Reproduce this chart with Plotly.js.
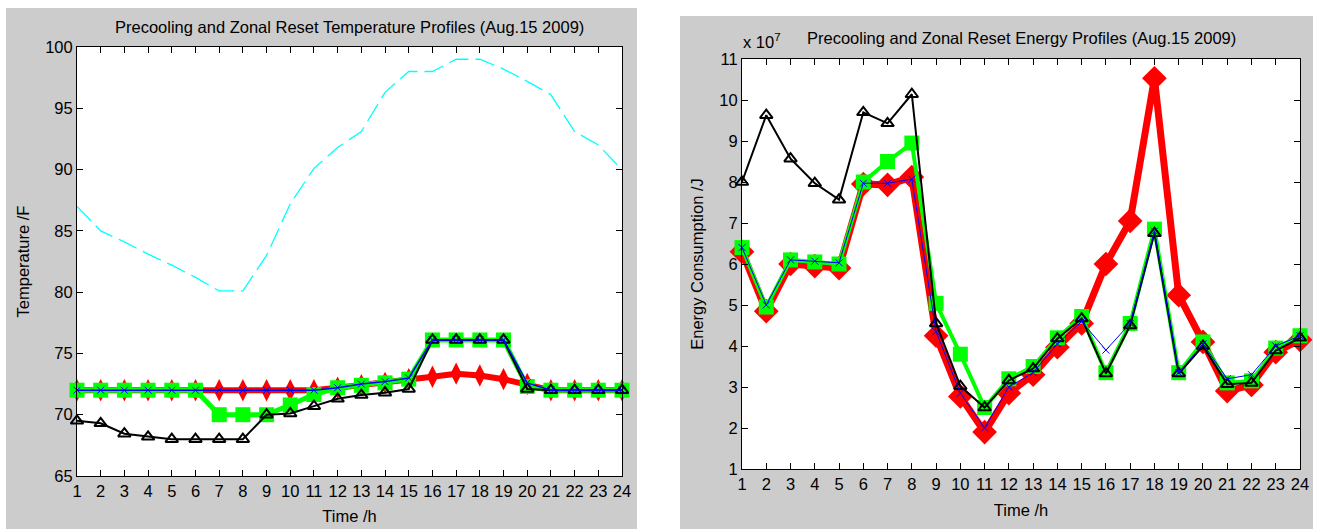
<!DOCTYPE html>
<html><head><meta charset="utf-8">
<script src="https://cdn.plot.ly/plotly-3.0.1.min.js"></script>
<style>html,body{margin:0;padding:0;background:#fff}#chart{width:1320px;height:529px}</style>
</head><body><div id="chart"></div>
<script>
const hours = [1,2,3,4,5,6,7,8,9,10,11,12,13,14,15,16,17,18,19,20,21,22,23,24];
const xTickLabels = ['1','2','3','4','5','6','7','8','9','10','11','12','13','14','15','16','17','18','19','20','21','22','23','24'];

// Temperature profiles (F)
const tempOutdoor = [87,85,84.1,83.1,82.2,81.2,80.1,80.1,83,87.2,90.1,91.8,93.1,96.3,98,98,99,99,98.2,97.2,96.1,93.1,92,90];
const tempRed   = [72,72,72,72,72,72,72,72,72,72,72,72.2,72.4,72.6,72.9,73.1,73.35,73.2,72.9,72.5,72,72,72,72];
const tempGreen = [72,72,72,72,72,72,70,70,70,70.8,71.65,72.2,72.4,72.6,72.9,76.1,76.1,76.1,76.1,72.3,72,72,72,72];
const tempBlack = [69.5,69.3,68.45,68.2,68,68,68,68,70,70.1,70.7,71.3,71.6,71.8,72.1,76.1,76.1,76.1,76.1,72.1,72,72,72,72];
const tempBlue  = [72,72,72,72,72,72,72,72,72,72,72,72.2,72.5,72.7,73.0,76.1,76.1,76.1,76.1,72.6,72,72,72,72];

// Energy profiles (x 10^7 J)
const energyRed   = [6.3,4.85,6.0,5.95,5.9,7.95,7.93,8.12,4.25,2.77,1.9,2.85,3.3,3.97,4.55,6.0,7.05,10.53,5.24,4.1,2.9,3.05,3.85,4.15];
const energyGreen = [6.4,4.95,6.1,6.05,6.0,8.0,8.5,8.95,5.04,3.8,2.5,3.2,3.5,4.2,4.72,3.35,4.55,6.85,3.35,4.1,3.1,3.15,3.95,4.25];
const energyBlack = [8.0,9.63,8.57,7.97,7.57,9.7,9.43,10.14,4.55,3.02,2.5,3.16,3.45,4.18,4.67,3.33,4.5,6.75,3.33,4.0,3.07,3.1,3.89,4.2];
const energyBlue  = [6.4,5.0,6.1,6.07,6.03,7.97,7.97,8.07,4.35,2.85,2.0,3.0,3.35,4.05,4.6,3.9,4.55,6.8,3.35,4.05,3.2,3.3,4.0,4.25];

const W = 1320, H = 529;
const FONT = 'Liberation Sans, Arial, sans-serif';
const FS = 16.5;
const px = v => v / W;
const py = v => (H - v) / H;

function tr(y, xa, ya, o) {
  return Object.assign({x: hours, y: y, xaxis: xa, yaxis: ya, type: 'scatter', cliponaxis: false, hoverinfo: 'skip', showlegend: false}, o);
}

const traces = [
  tr(tempOutdoor, 'x', 'y', {mode: 'lines', line: {color: '#00ffff', width: 1.3, dash: '20px,7px'}}),
  tr(tempRed, 'x', 'y', {mode: 'lines+markers', line: {color: '#ff0000', width: 6}, marker: {symbol: 'diamond-tall', size: 16, color: '#ff0000'}}),
  tr(tempGreen, 'x', 'y', {mode: 'lines+markers', line: {color: '#00ff00', width: 5}, marker: {symbol: 'square', size: 15, color: '#00ff00'}}),
  tr(tempBlack, 'x', 'y', {mode: 'lines+markers', line: {color: '#000000', width: 2}, marker: {symbol: 'triangle-up-open', size: 11, color: '#000000', line: {width: 2, color: '#000000'}}}),
  tr(tempBlue, 'x', 'y', {mode: 'lines+markers', line: {color: '#0000ff', width: 1.5}, marker: {symbol: 'x-thin-open', size: 7, color: '#0000ff', line: {width: 1, color: '#0000ff'}}}),

  tr(energyRed, 'x2', 'y2', {mode: 'lines+markers', line: {color: '#ff0000', width: 7}, marker: {symbol: 'diamond', size: 19, color: '#ff0000'}}),
  tr(energyGreen, 'x2', 'y2', {mode: 'lines+markers', line: {color: '#00ff00', width: 4}, marker: {symbol: 'square', size: 15, color: '#00ff00'}}),
  tr(energyBlack, 'x2', 'y2', {mode: 'lines+markers', line: {color: '#000000', width: 2}, marker: {symbol: 'triangle-up-open', size: 11, color: '#000000', line: {width: 2, color: '#000000'}}}),
  tr(energyBlue, 'x2', 'y2', {mode: 'lines+markers', line: {color: '#0000ff', width: 1}, marker: {symbol: 'x-thin-open', size: 7, color: '#0000ff', line: {width: 1, color: '#0000ff'}}})
];

const axBase = {
  showline: true, linecolor: '#000', linewidth: 1, mirror: 'ticks',
  ticks: 'inside', ticklen: 6, tickcolor: '#000', tickwidth: 1,
  showgrid: false, zeroline: false, fixedrange: true,
  tickfont: {family: FONT, size: FS, color: '#000'}
};
const titleFont = {family: FONT, size: FS, color: '#000'};

const layout = {
  width: W, height: H,
  margin: {l: 0, r: 0, t: 0, b: 0},
  paper_bgcolor: '#ffffff', plot_bgcolor: '#ffffff',
  font: {family: FONT, color: '#000'},
  xaxis: Object.assign({}, axBase, {domain: [px(77), px(622)], anchor: 'y', range: [1, 24], tickvals: hours, ticktext: xTickLabels,
    title: {text: 'Time /h', font: titleFont, standoff: 11}}),
  yaxis: Object.assign({}, axBase, {domain: [py(476), py(47)], anchor: 'x', range: [65, 100], tickvals: [65,70,75,80,85,90,95,100],
    title: {text: 'Temperature /F', font: titleFont, standoff: 11}}),
  xaxis2: Object.assign({}, axBase, {domain: [px(742), px(1300)], anchor: 'y2', range: [1, 24], tickvals: hours, ticktext: xTickLabels,
    title: {text: 'Time /h', font: titleFont, standoff: 12}}),
  yaxis2: Object.assign({}, axBase, {domain: [py(469), py(59)], anchor: 'x2', range: [1, 11], tickvals: [1,2,3,4,5,6,7,8,9,10,11],
    title: {text: 'Energy Consumption /J', font: titleFont, standoff: 11}}),
  shapes: [
    {type: 'rect', xref: 'paper', yref: 'paper', x0: px(6), x1: px(637), y0: 0, y1: py(8), fillcolor: '#cccccc', line: {width: 0}, layer: 'below'},
    {type: 'rect', xref: 'paper', yref: 'paper', x0: px(680), x1: px(1313), y0: 0, y1: py(16), fillcolor: '#cccccc', line: {width: 0}, layer: 'below'},
    {type: 'rect', xref: 'paper', yref: 'paper', x0: px(77), x1: px(622), y0: py(476), y1: py(47), fillcolor: '#ffffff', line: {width: 0}, layer: 'below'},
    {type: 'rect', xref: 'paper', yref: 'paper', x0: px(742), x1: px(1300), y0: py(469), y1: py(59), fillcolor: '#ffffff', line: {width: 0}, layer: 'below'}
  ],
  annotations: [
    {text: 'Precooling and Zonal Reset Temperature Profiles (Aug.15 2009)', xref: 'paper', yref: 'paper', x: px(349.5), y: py(27), xanchor: 'center', yanchor: 'middle', showarrow: false, font: titleFont},
    {text: 'Precooling and Zonal Reset Energy Profiles (Aug.15 2009)', xref: 'paper', yref: 'paper', x: px(1021), y: py(38), xanchor: 'center', yanchor: 'middle', showarrow: false, font: titleFont},
    {text: 'x 10<sup>7</sup>', xref: 'paper', yref: 'paper', x: px(741), y: py(41), xanchor: 'left', yanchor: 'middle', showarrow: false, font: titleFont}
  ]
};

Plotly.newPlot('chart', traces, layout, {staticPlot: true, displayModeBar: false});
</script>
</body></html>
